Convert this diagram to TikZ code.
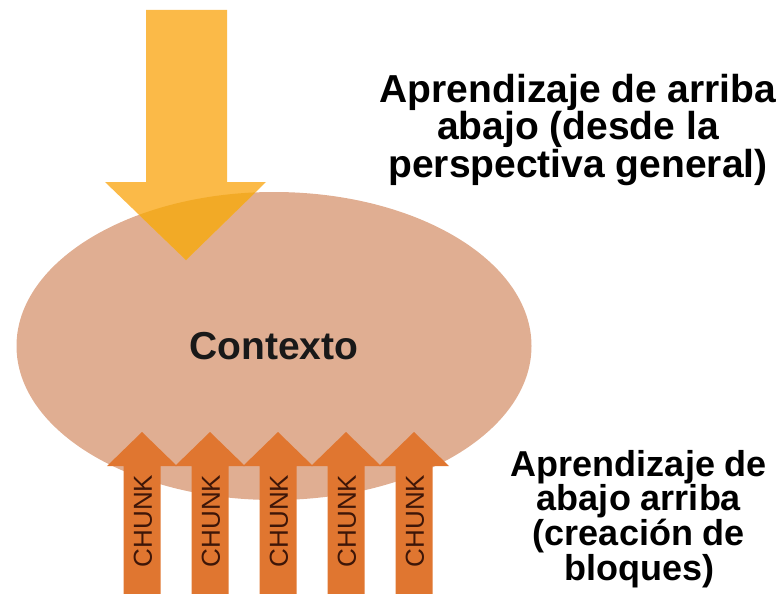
\documentclass[tikz,border=0pt]{standalone}
\usepackage{fontspec}
\setmainfont{Liberation Sans}
\usetikzlibrary{shapes.geometric}

\definecolor{topYellow}{RGB}{251,186,72}
\definecolor{tipYellow}{RGB}{242,170,38}
\definecolor{ctxSalmon}{RGB}{224,174,146}
\definecolor{chunkOrange}{RGB}{224,118,48}
\definecolor{chunkText}{RGB}{62,22,8}

\newcommand{\topArrowPath}{(146,10) -- (227,10) -- (227,182) -- (266,182) -- (186,260) -- (105,182) -- (146,182) -- cycle}

\begin{document}
\begin{tikzpicture} [
      x=1pt, y=-1pt,
      context/.style={ellipse, fill=ctxSalmon, inner sep=0pt, minimum width=515pt, minimum height=308pt,
        font=\bfseries\fontsize{39}{39}\selectfont, text=black!90},
      chunkarrow/.style={fill=chunkOrange},
      chunklabel/.style={rotate=90, inner sep=0pt, text=chunkText, font=\fontsize{26}{26}\selectfont},
      note/.style={align=center, inner sep=0pt, anchor=north}
   ]
    \useasboundingbox (0,0) rectangle (784,594);

    \node[context] (ndContext) at (274,346) {Contexto};

    % top-down arrow, darker where it lies on the ellipse
    \fill[topYellow] \topArrowPath;
    \begin{scope}
      \clip (274,346) ellipse [x radius=257.5pt, y radius=154pt];
      \fill[tipYellow] \topArrowPath;
    \end{scope}

    % bottom-up chunks
    \fill[chunkarrow] (142,432) -- ++(35,34) -- ++(-16.5,0) -- ++(0,128) -- ++(-37,0) -- ++(0,-128) -- ++(-16.5,0) -- cycle;
    \fill[chunkarrow] (210,432) -- ++(35,34) -- ++(-16.5,0) -- ++(0,128) -- ++(-37,0) -- ++(0,-128) -- ++(-16.5,0) -- cycle;
    \fill[chunkarrow] (278,432) -- ++(35,34) -- ++(-16.5,0) -- ++(0,128) -- ++(-37,0) -- ++(0,-128) -- ++(-16.5,0) -- cycle;
    \fill[chunkarrow] (346,432) -- ++(35,34) -- ++(-16.5,0) -- ++(0,128) -- ++(-37,0) -- ++(0,-128) -- ++(-16.5,0) -- cycle;
    \fill[chunkarrow] (414,432) -- ++(35,34) -- ++(-16.5,0) -- ++(0,128) -- ++(-37,0) -- ++(0,-128) -- ++(-16.5,0) -- cycle;

    \node[chunklabel] (k1) at (143,521) {CHUNK};
    \node[chunklabel] (k2) at (211,521) {CHUNK};
    \node[chunklabel] (k3) at (279,521) {CHUNK};
    \node[chunklabel] (k4) at (347,521) {CHUNK};
    \node[chunklabel] (k5) at (415,521) {CHUNK};

    \node[note, font=\bfseries\fontsize{39}{32}\selectfont] (ndTopDown) at (578,74) {
      Aprendizaje de arriba\\
      abajo (desde la\\
      perspectiva general)
    };
    \node[note, font=\bfseries\fontsize{36}{30}\selectfont] (ndBottomUp) at (639,450) {
      Aprendizaje de\\
      abajo arriba\\
      (creación de\\
      bloques)
    };

  \end{tikzpicture}
\end{document}
